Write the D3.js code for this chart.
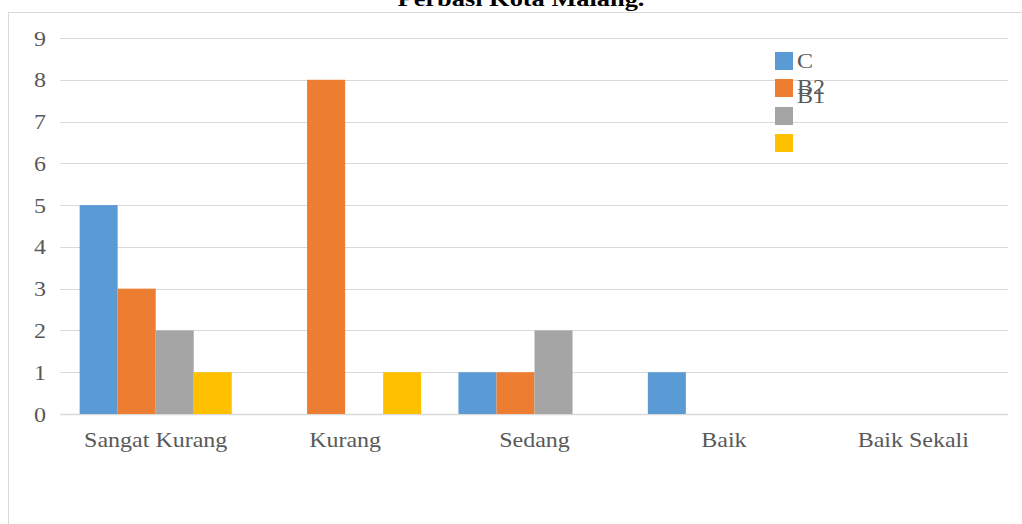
<!DOCTYPE html>
<html>

<head>
	<title>Perbasi Kota Malang</title>
	<style>
		html,
		body {
			margin: 0;
			background: white;
		}

		svg {
			display: block;
		}
	</style>
	<script src="https://cdn.jsdelivr.net/npm/d3@7/dist/d3.min.js"></script>
</head>

<body>
	<svg id="svg" width="1022" height="524"></svg>

	<script>
		const categories = ['Sangat Kurang', 'Kurang', 'Sedang', 'Baik', 'Baik Sekali'];
		const seriesNames = ['C', 'B2', 'B1', ''];
		const valuesC = [5, 0, 1, 1, 0];
		const valuesB2 = [3, 8, 1, 0, 0];
		const valuesB1 = [2, 0, 2, 0, 0];
		const valuesD = [1, 1, 0, 0, 0];
		const yTicks = [0, 1, 2, 3, 4, 5, 6, 7, 8, 9];

		const COLORS = ['#5B9BD5', '#ED7D31', '#A5A5A5', '#FFC000'];
		const GRID = '#D9D9D9';
		const TEXT = '#595959';
		const FONT = '"Liberation Serif", "Times New Roman", serif';
		const STRETCH = 'scale(1.2,1)'; // the reference text looks wider than normal Times

		const allValues = [valuesC, valuesB2, valuesB1, valuesD];
		const svg = d3.select('#svg');

		// frame of the chart area (only top and left edges show)
		svg.append('line').attr('x1', 8).attr('x2', 1022).attr('y1', 12.5).attr('y2', 12.5)
			.attr('stroke', GRID);
		svg.append('line').attr('x1', 8.5).attr('x2', 8.5).attr('y1', 12).attr('y2', 524)
			.attr('stroke', GRID);

		// title, cut off by the top of the picture
		svg.append('text')
			.attr('transform', 'translate(521,6) ' + STRETCH)
			.attr('text-anchor', 'middle')
			.style('font-family', FONT)
			.style('font-weight', 'bold')
			.style('font-size', '22px')
			.attr('fill', '#000')
			.text('Perbasi Kota Malang.');

		const x = d3.scaleBand().domain(categories).range([61, 1008]).padding(0);
		const xInner = d3.scaleBand().domain(d3.range(seriesNames.length))
			.range([0, x.bandwidth()]).paddingInner(0).paddingOuter(0.49);
		const y = d3.scaleLinear().domain([0, 9]).range([414, 38]);

		// gridlines
		svg.append('g')
			.selectAll('line')
			.data(yTicks)
			.join('line')
			.attr('x1', 60).attr('x2', 1008)
			.attr('y1', d => Math.round(y(d)) + 0.5)
			.attr('y2', d => Math.round(y(d)) + 0.5)
			.attr('stroke', GRID)
			.attr('stroke-width', d => d === 0 ? 1.5 : 1);

		// y labels
		const yAxis = svg.append('g')
			.attr('transform', 'translate(46,0)')
			.call(d3.axisLeft(y).tickValues(yTicks).tickSize(0).tickPadding(0));
		yAxis.select('.domain').remove();
		yAxis.selectAll('text')
			.style('font-family', FONT)
			.style('font-size', '20px')
			.attr('fill', TEXT)
			.attr('dy', '0.35em')
			.attr('transform', STRETCH);

		// bars
		const groups = svg.append('g')
			.selectAll('g')
			.data(categories)
			.join('g')
			.attr('transform', d => `translate(${x(d)},0)`);

		groups.selectAll('rect')
			.data((d, i) => allValues.map((vals, s) => ({ s, v: vals[i] })))
			.join('rect')
			.attr('x', d => xInner(d.s))
			.attr('width', xInner.bandwidth())
			.attr('y', d => y(d.v))
			.attr('height', d => y(0) - y(d.v))
			.attr('fill', d => COLORS[d.s]);

		// x labels
		const xAxis = svg.append('g')
			.attr('transform', 'translate(0,447)')
			.call(d3.axisBottom(x).tickSize(0).tickPadding(0));
		xAxis.select('.domain').remove();
		xAxis.selectAll('text')
			.style('font-family', FONT)
			.style('font-size', '20px')
			.attr('fill', TEXT)
			.attr('dy', 0)
			.attr('transform', STRETCH);

		// legend (labels B2 and B1 overlap in the original)
		const legendBoxY = [52, 79, 107, 134];
		const legendTextY = [68, 94, 103, 150];
		const legend = svg.append('g');
		legend.selectAll('rect')
			.data(seriesNames)
			.join('rect')
			.attr('x', 775)
			.attr('y', (d, i) => legendBoxY[i])
			.attr('width', 18)
			.attr('height', 18)
			.attr('fill', (d, i) => COLORS[i]);
		legend.selectAll('text')
			.data(seriesNames)
			.join('text')
			.attr('transform', (d, i) => `translate(797,${legendTextY[i]}) ${STRETCH}`)
			.style('font-family', FONT)
			.style('font-size', '20px')
			.attr('fill', TEXT)
			.text(d => d);
	</script>
</body>

</html>
